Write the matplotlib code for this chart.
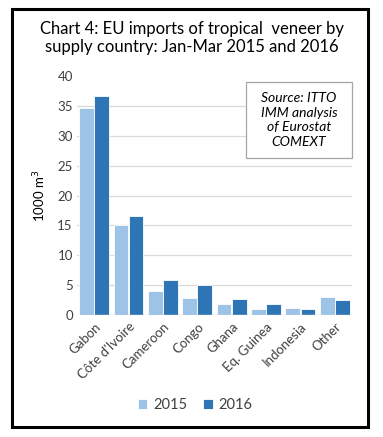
import numpy as np
import matplotlib
matplotlib.use('Agg')
import matplotlib.pyplot as plt
from matplotlib.patches import Rectangle

plt.rcParams['font.family'] = ['Lato', 'DejaVu Sans']

countries = ['Gabon', "Côte d'Ivoire", 'Cameroon', 'Congo', 'Ghana',
             'Eq. Guinea', 'Indonesia', 'Other']
imports_2015 = [34.6, 15.1, 4.0, 2.9, 1.9, 1.0, 1.2, 3.0]
imports_2016 = [36.7, 16.6, 5.8, 5.1, 2.7, 1.9, 1.0, 2.5]
yticks = [0, 5, 10, 15, 20, 25, 30, 35, 40]

C15 = '#9DC3E6'
C16 = '#2E75B6'
TXT = '#404040'

fig = plt.figure(figsize=(3.83, 4.37), dpi=100)
ax = fig.add_axes([0.201, 0.279, 0.718, 0.547])

x = np.arange(len(countries))
w = 0.43
ax.bar(x - 0.22, imports_2015, w, color=C15, edgecolor='white', linewidth=0.6,
       label='2015', zorder=3)
ax.bar(x + 0.22, imports_2016, w, color=C16, edgecolor='white', linewidth=0.6,
       label='2016', zorder=3)

ax.set_xlim(-0.5, len(countries) - 0.5)
ax.set_ylim(0, 40)
ax.set_yticks(yticks)
for v in yticks[1:-1]:
    ax.axhline(v, color='#D9D9D9', lw=0.9, zorder=1)
ax.axhline(0, color='#D9D9D9', lw=1.0, zorder=4)

for s in ax.spines.values():
    s.set_visible(False)
ax.tick_params(axis='both', length=0, labelsize=9.5, colors=TXT, pad=3)
ax.set_yticklabels([str(v) for v in yticks])
ax.set_xticks(x)
ax.set_xticklabels(countries, rotation=45, ha='right', rotation_mode='anchor')
ax.tick_params(axis='x', pad=4)
ax.set_ylabel('1000 m$^3$', fontsize=9.5, color='black', labelpad=7)

fig.text(0.502, 0.913, 'Chart 4: EU imports of tropical  veneer by\nsupply country: Jan-Mar 2015 and 2016',
         ha='center', va='center', fontsize=12, color='black', linespacing=1.2)

# source note box (white, covers the upper gridlines)
ax.add_patch(Rectangle((0.615, 26.3), 0.385, 12.7, transform=ax.get_yaxis_transform(),
                       fc='white', ec='#A6A6A6', lw=0.9, zorder=5, clip_on=False))
ax.text(0.807, 32.65, 'Source: ITTO\nIMM analysis\nof Eurostat\nCOMEXT',
        transform=ax.get_yaxis_transform(), ha='center', va='center', fontsize=10,
        style='italic', color='black', linespacing=1.25, zorder=6)

leg = fig.legend(loc='center', bbox_to_anchor=(0.51, 0.073), ncol=2, frameon=False,
                 fontsize=10.5, handlelength=0.65, handleheight=0.65, handletextpad=0.4,
                 columnspacing=1.1)
for t in leg.get_texts():
    t.set_color(TXT)

# outer frame
fig.patches.append(Rectangle((12 / 383, 1 - 427 / 437), 356 / 383, 418 / 437,
                             transform=fig.transFigure, fill=False, ec='black', lw=2.2))

fig.savefig('out.png', dpi=100)
